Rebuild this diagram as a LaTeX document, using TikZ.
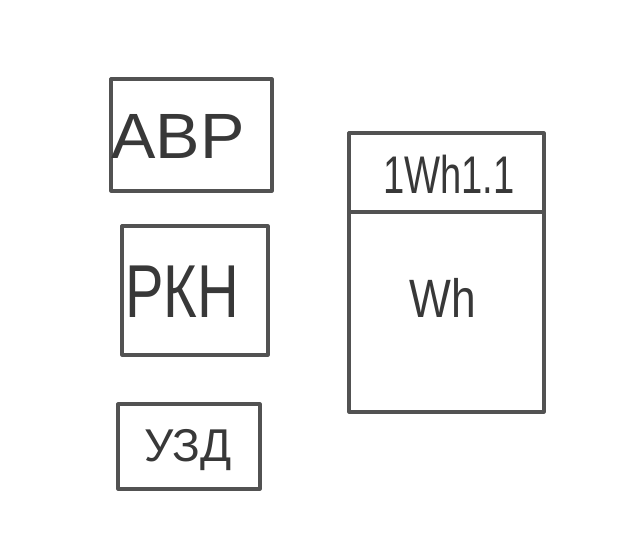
\documentclass[tikz,border=0pt]{standalone}
\usepackage{fontspec}
\setmainfont{Liberation Sans}
\begin{document}
\begin{tikzpicture}[x=1pt,y=-1pt,
  box/.style={draw=black!68,line width=3.2pt,line join=round},
  lbl/.style={inner sep=0pt,anchor=base,text=black!78}]
\useasboundingbox (0,0) rectangle (640,544);
\draw[box] (111,79) rectangle (272,191);
\draw[box] (122,226) rectangle (268,355);
\draw[box] (118,404) rectangle (260,489);
\draw[box] (349,133) rectangle (544,412);
\draw[box] (349,212) -- (544,212);
\node[lbl,xscale=1.04] (avr) at (178,158) {\fontsize{64}{64}\selectfont АВР};
\node[lbl,xscale=0.77] (rkn) at (182,317) {\fontsize{75}{75}\selectfont РКН};
\node[lbl,xscale=1.0] (uzd) at (188,461) {\fontsize{46}{46}\selectfont УЗД};
\node[lbl,xscale=0.72] (id) at (449,193) {\fontsize{53}{53}\selectfont 1Wh1.1};
\node[lbl,xscale=0.82] (wh) at (443,317) {\fontsize{54}{54}\selectfont Wh};
\end{tikzpicture}
\end{document}
